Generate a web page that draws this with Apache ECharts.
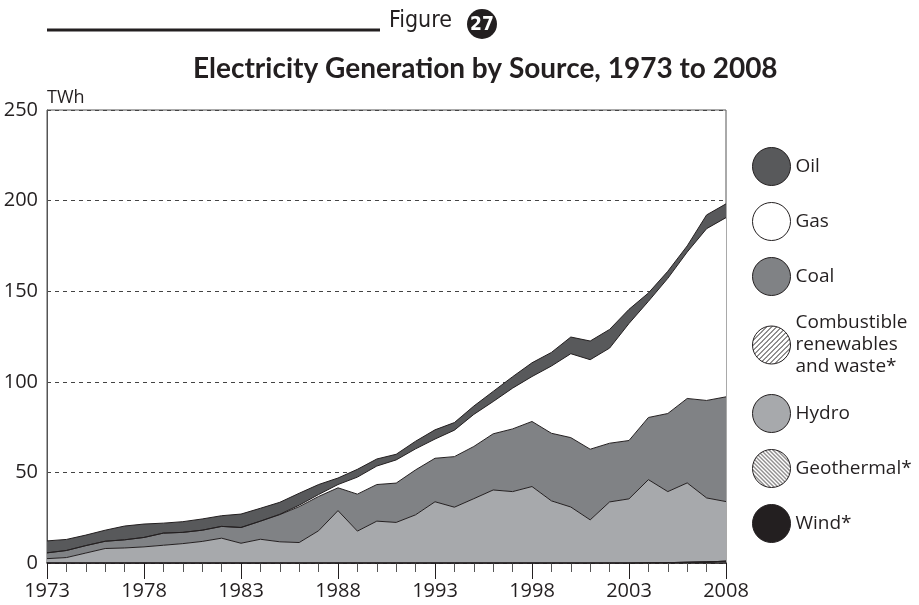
<!DOCTYPE html>
<html>
<head>
<meta charset="utf-8">
<script src="https://cdn.jsdelivr.net/npm/echarts@6/dist/echarts.min.js"></script>
<style>
html, body { margin: 0; padding: 0; background: #fff; }
#chart { width: 919px; height: 605px; }
</style>
</head>
<body>
<div id="chart"></div>
<script>
// data, TWh per source (layer values, not cumulative)
const years = [1973, 1974, 1975, 1976, 1977, 1978, 1979, 1980, 1981, 1982, 1983, 1984,
	1985, 1986, 1987, 1988, 1989, 1990, 1991, 1992, 1993, 1994, 1995, 1996,
	1997, 1998, 1999, 2000, 2001, 2002, 2003, 2004, 2005, 2006, 2007, 2008];
const wind = [0, 0, 0, 0, 0, 0, 0, 0, 0, 0, 0, 0,
	0, 0, 0, 0, 0, 0, 0, 0, 0, 0, 0, 0,
	0, 0, 0, 0, 0, 0, 0, 0.1, 0.2, 0.4, 0.6, 1.0];
const geothermal = [0, 0, 0, 0, 0, 0, 0, 0, 0, 0, 0, 0,
	0, 0, 0, 0, 0, 0, 0, 0, 0, 0, 0, 0,
	0, 0, 0, 0, 0, 0, 0, 0, 0, 0, 0, 0];
const combustible = [0, 0, 0, 0, 0, 0, 0, 0, 0, 0, 0, 0,
	0, 0, 0, 0, 0, 0, 0, 0, 0, 0, 0, 0,
	0, 0, 0, 0, 0, 0, 0, 0, 0, 0, 0, 0];
const hydro = [2.4, 3.0, 5.5, 8.0, 8.3, 8.9, 9.8, 10.7, 11.9, 13.7, 10.9, 13.1,
	11.7, 11.3, 17.8, 28.9, 17.6, 23.1, 22.4, 26.6, 33.8, 30.8, 35.5, 40.3,
	39.4, 42.2, 34.3, 30.9, 23.8, 33.7, 35.4, 45.9, 39.2, 43.8, 35.3, 32.9];
const coal = [3.2, 3.9, 4.1, 4.0, 4.5, 5.2, 6.7, 6.2, 6.2, 6.5, 8.7, 10.0,
	15.0, 19.8, 18.9, 12.6, 20.4, 20.2, 21.7, 24.8, 24.0, 27.9, 28.8, 31.0,
	34.6, 35.9, 37.3, 38.3, 39.0, 32.4, 32.2, 34.3, 43.1, 46.6, 53.8, 57.8];
const gas = [0, 0, 0, 0, 0, 0, 0, 0, 0, 0, 0, 0,
	0.2, 0.8, 1.1, 1.8, 9.4, 10.2, 12.8, 11.6, 10.6, 14.6, 17.7, 17.8,
	22.5, 24.8, 37.1, 46.3, 49.4, 52.5, 64.6, 64.1, 74.6, 80.8, 94.8, 98.9];
const oil = [6.6, 6.1, 5.8, 6.1, 7.6, 7.4, 5.5, 5.9, 6.2, 5.9, 7.4, 7.1,
	6.6, 6.6, 5.5, 3.6, 4.3, 3.9, 3.1, 4.2, 5.1, 4.2, 4.6, 5.6,
	6.3, 7.6, 7.5, 9.2, 10.3, 10.3, 7.8, 4.6, 3.9, 3.4, 7.6, 7.6];
const yTicks = [0, 50, 100, 150, 200, 250];

const ink = '#231f20';
const combName = 'Combustible\nrenewables\nand waste*';

// hatch fills for the legend icons
const makeHatch = (size, forward) => {
	const c = document.createElement('canvas');
	c.width = size; c.height = size;
	const ctx = c.getContext('2d');
	ctx.fillStyle = '#fff';
	ctx.fillRect(0, 0, size, size);
	ctx.strokeStyle = ink;
	ctx.lineWidth = 1;
	ctx.beginPath();
	if (forward) {
		ctx.moveTo(-1, size + 1); ctx.lineTo(size + 1, -1);
		ctx.moveTo(-1, 1); ctx.lineTo(1, -1);
		ctx.moveTo(size - 1, size + 1); ctx.lineTo(size + 1, size - 1);
	} else {
		ctx.moveTo(-1, -1); ctx.lineTo(size + 1, size + 1);
		ctx.moveTo(size - 1, -1); ctx.lineTo(size + 1, 1);
		ctx.moveTo(-1, size - 1); ctx.lineTo(1, size + 1);
	}
	ctx.stroke();
	return { image: c, repeat: 'repeat' };
};

const setSeries = (name, arr, color) => ({
	name: name,
	type: 'line',
	stack: 'total',
	symbol: 'none',
	lineStyle: { color: ink, width: 1 },
	itemStyle: { color: color },
	areaStyle: { color: color, opacity: 1 },
	data: arr,
});

const chart = echarts.init(document.getElementById('chart'));

const option = {
	backgroundColor: '#fff',
	animation: false,
	title: {
		text: 'Electricity Generation by Source, 1973 to 2008',
		left: 188,
		top: 50,
		textStyle: { fontFamily: 'Lato', fontWeight: 'bold', fontSize: 28, color: ink },
	},
	graphic: [
		{ type: 'line', shape: { x1: 47, y1: 30, x2: 380, y2: 30 }, style: { stroke: ink, lineWidth: 3 } },
		{ type: 'text', left: 389, top: 10, style: { text: 'Figure', fontFamily: "'DejaVu Sans Condensed', 'Liberation Sans'", fontSize: 23, fill: ink } },
		{ type: 'circle', shape: { cx: 482, cy: 24, r: 15 }, style: { fill: ink } },
		{ type: 'text', x: 482, y: 25, style: { text: '27', fontFamily: "'DejaVu Sans Condensed', 'Liberation Sans'", fontWeight: 'bold', fontSize: 19, fill: '#fff', align: 'center', verticalAlign: 'middle' } },
	],
	legend: {
		orient: 'vertical',
		left: 747,
		top: 142,
		icon: 'circle',
		itemWidth: 38,
		itemHeight: 38,
		itemGap: 16,
		itemStyle: { borderColor: ink, borderWidth: 1 },
		textStyle: { fontFamily: 'Open Sans', fontSize: 19, color: ink, lineHeight: 22 },
		data: [
			'Oil', 'Gas', 'Coal',
			{ name: combName, itemStyle: { color: makeHatch(5, true) } },
			'Hydro',
			{ name: 'Geothermal*', itemStyle: { color: makeHatch(4, false) } },
			'Wind*',
		],
	},
	grid: { left: 47, right: 193, top: 110, bottom: 42, show: true, borderColor: '#555', borderWidth: 1 },
	xAxis: [
		{
			type: 'category',
			data: years,
			boundaryGap: false,
			position: 'bottom',
			axisLine: { lineStyle: { color: ink, width: 1.5 } },
			axisTick: { show: true, interval: 0, length: 9, lineStyle: { color: '#555' } },
			axisLabel: { interval: 4, fontFamily: 'Open Sans', fontSize: 20, color: ink, margin: 18 },
			splitLine: { show: false },
		},
		{
			// longer ticks at the labelled years
			type: 'category',
			data: years,
			boundaryGap: false,
			position: 'bottom',
			offset: 0,
			axisLine: { show: false },
			axisTick: { show: true, interval: 4, length: 16, lineStyle: { color: ink } },
			axisLabel: { show: false },
			splitLine: { show: false },
		},
	],
	yAxis: {
		type: 'value',
		min: yTicks[0],
		max: yTicks[yTicks.length - 1],
		interval: 50,
		name: 'TWh',
		nameGap: 3,
		nameTextStyle: { align: 'left', fontFamily: 'Open Sans', fontSize: 18, color: ink },
		axisLine: { show: true, lineStyle: { color: '#555' } },
		axisTick: { show: false },
		axisLabel: { fontFamily: 'Open Sans', fontSize: 20, color: ink, margin: 9 },
		splitLine: { show: true, lineStyle: { type: [4, 4], color: '#444', width: 1 } },
	},
	series: [
		setSeries('Wind*', wind, ink),
		setSeries('Geothermal*', geothermal, '#ffffff'),
		setSeries(combName, combustible, '#ffffff'),
		setSeries('Hydro', hydro, '#a7a9ac'),
		setSeries('Coal', coal, '#808285'),
		setSeries('Gas', gas, '#ffffff'),
		setSeries('Oil', oil, '#58595b'),
	],
};

chart.setOption(option);
</script>
</body>
</html>
